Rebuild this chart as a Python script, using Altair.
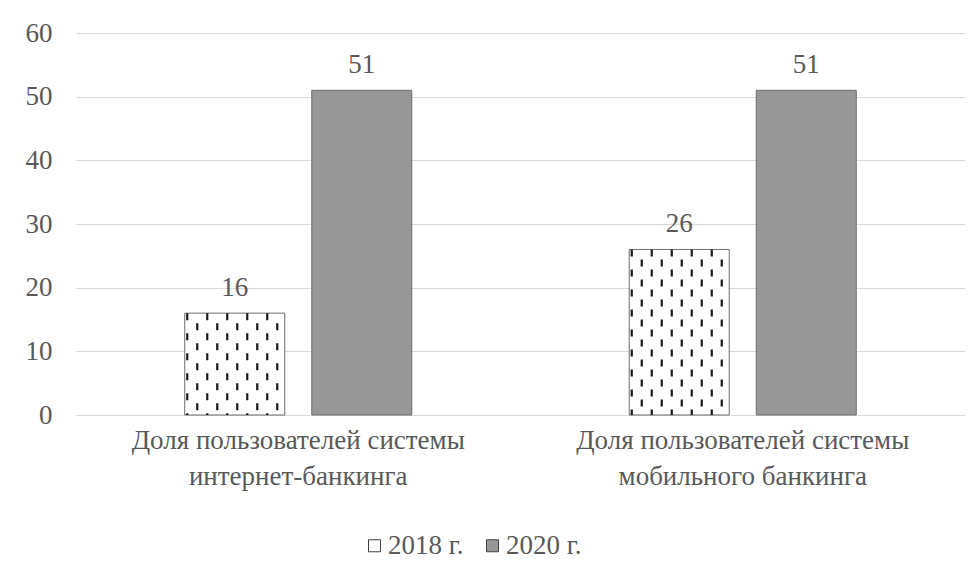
import altair as alt
import pandas as pd

categories = [
    "Доля пользователей системы\nинтернет-банкинга",
    "Доля пользователей системы\nмобильного банкинга",
]
series = ["2018 г.", "2020 г."]
values_2018 = [16, 26]
values_2020 = [51, 51]
y_ticks = [0, 10, 20, 30, 40, 50, 60]

rows = []
for c, v in zip(categories, values_2018):
    rows.append({"category": c, "series": series[0], "value": v})
for c, v in zip(categories, values_2020):
    rows.append({"category": c, "series": series[1], "value": v})
df = pd.DataFrame(rows)

FONT = "'Times New Roman', 'Liberation Serif', 'DejaVu Serif', serif"
TXT = "#595959"
GRID = "#d9d9d9"
FS = 27

x_axis = alt.Axis(
    title=None,
    labelExpr="split(datum.label, '\\n')",
    labelAngle=0,
    labelLimit=0,
    ticks=False,
    domain=True,
    domainColor=GRID,
    labelPadding=12,
    labelFontSize=FS,
    labelLineHeight=36,
    labelFont=FONT,
    labelColor=TXT,
)
x_enc = alt.X(
    "category:N",
    sort=categories,
    scale=alt.Scale(paddingInner=0, paddingOuter=0),
    axis=x_axis,
)
y_enc = alt.Y(
    "value:Q",
    scale=alt.Scale(domain=[0, 60], nice=False),
    axis=alt.Axis(
        values=y_ticks,
        title=None,
        domain=False,
        ticks=False,
        grid=True,
        gridColor=GRID,
        labelPadding=24,
        labelFontSize=FS,
        labelFont=FONT,
        labelColor=TXT,
    ),
)
xoff = alt.XOffset(
    "series:N",
    sort=series,
    scale=alt.Scale(paddingInner=0.2126, paddingOuter=0.856),
)

base = alt.Chart(df)

bars = base.mark_bar(stroke="#6e6e6e", strokeWidth=1).encode(
    x=x_enc,
    xOffset=xoff,
    y=y_enc,
    color=alt.Color(
        "series:N",
        sort=series,
        scale=alt.Scale(domain=series, range=["#ffffff", "#979797"]),
        legend=alt.Legend(
            title=None,
            orient="none",
            legendX=285,
            legendY=499,
            direction="horizontal",
            symbolType="square",
            symbolSize=144,
            symbolStrokeColor="#404040",
            symbolStrokeWidth=1,
            labelFont=FONT,
            labelFontSize=FS,
            labelColor=TXT,
            labelOffset=0,
            columnPadding=15,
            padding=0,
        ),
    ),
)

pattern_layers = []
for k in range(10):
    pattern_layers.append(
        base.transform_filter(alt.datum.series == series[0])
        .mark_rule(
            xOffset=-111 + 10 * k,
            strokeDash=[7, 13],
            strokeDashOffset=(10 if k % 2 else 0),
            strokeWidth=2.2,
            color="#1a1a1a",
        )
        .encode(x=x_enc, y=alt.Y("value:Q"), y2=alt.datum(0))
    )

labels = base.mark_text(
    dy=-17, baseline="alphabetic", fontSize=FS, font=FONT, color=TXT
).encode(x=x_enc, xOffset=xoff, y=alt.Y("value:Q"), text=alt.Text("value:Q"))

chart = (
    alt.layer(bars, *pattern_layers, labels)
    .properties(
        width=889,
        height=382,
        autosize=alt.AutoSizeParams(type="none"),
        padding={"left": 68, "top": 25, "right": 6, "bottom": 145},
        background="white",
    )
    .configure_view(stroke=None)
)

chart.save("out.html", embed_options={"renderer": "svg", "actions": False})
